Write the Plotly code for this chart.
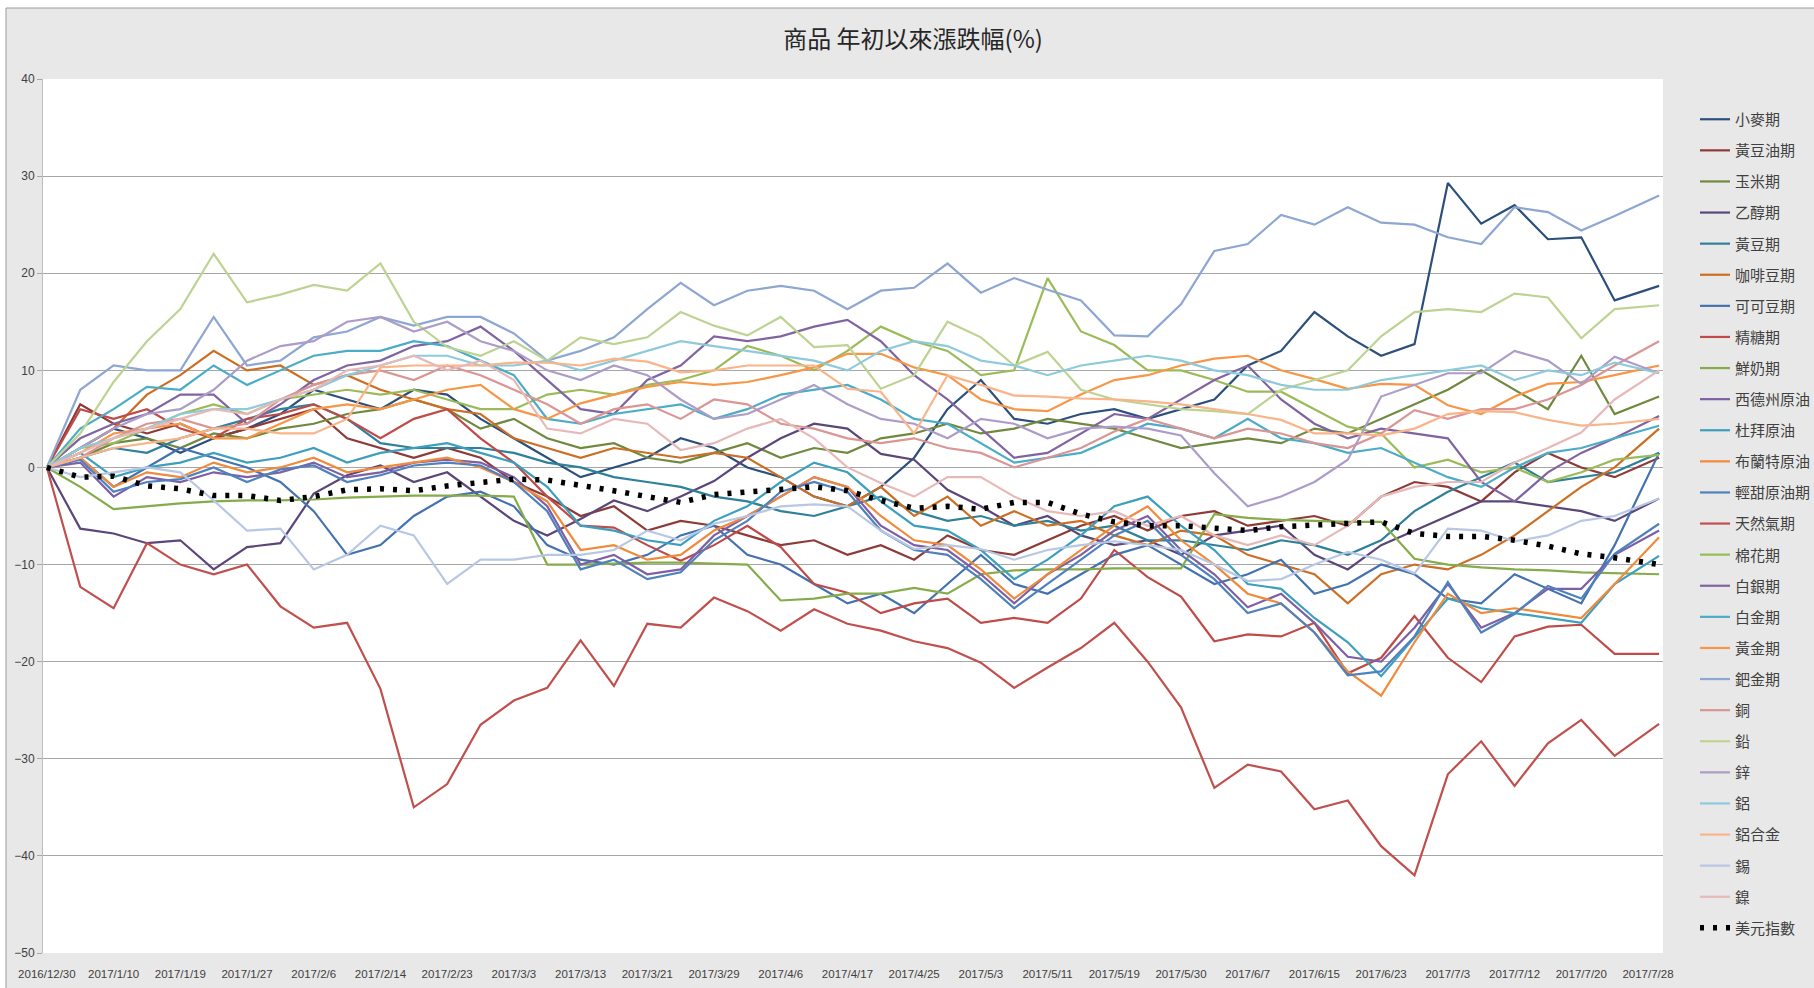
import plotly.graph_objects as go

# ---- category axis (trading days) ----
tick_labels = ["2016/12/30", "2017/1/10", "2017/1/19", "2017/1/27", "2017/2/6", "2017/2/14",
               "2017/2/23", "2017/3/3", "2017/3/13", "2017/3/21", "2017/3/29", "2017/4/6",
               "2017/4/17", "2017/4/25", "2017/5/3", "2017/5/11", "2017/5/19", "2017/5/30",
               "2017/6/7", "2017/6/15", "2017/6/23", "2017/7/3", "2017/7/12", "2017/7/20",
               "2017/7/28"]
tick_days = list(range(0, 145, 6))
days = list(range(0, 142, 3)) + [145]   # trading-day index of each reading

# ---- series (% change since start of year) ----
wheat = [0, 2, 4, 3, 1.5, 3, 4, 5.5, 8, 7, 6, 8, 7.5, 5, 3, 1, -1, 0, 1, 3, 2,
         0, -1, -3, -4, -2, 1, 6, 9, 5, 4.5, 5.5, 6, 5, 6, 7, 10.5, 12, 16, 13.5, 11.5, 12.7,
         29.3, 25.1, 27, 23.5, 23.7, 17.2, 18.7]
soyoil = [0, 6.5, 4.5, 3.5, 4.5, 3, 4, 5, 6, 3, 2, 1, 2, 1, -1.5, -3, -5, -4, -6.5, -5.5, -6,
          -7, -8, -7.5, -9, -8, -9.5, -7, -8.5, -9, -7.5, -6, -5, -6.5, -5, -4.5, -6, -5.5, -5, -6, -3, -1.5,
          -2, -3.5, -0.5, 1.5, 0, -1, 1]
corn = [0, 1, 2.5, 3, 2, 3.5, 3, 4, 4.5, 5.5, 6, 7, 6, 4, 5, 3, 2, 2.5, 1, 0.5, 1.5,
        2.5, 1, 2, 1.5, 3, 3.5, 4.5, 3.5, 4, 5, 4.5, 4, 3, 2, 2.5, 3, 2.5, 4, 3.5, 5, 6.5,
        8, 10, 8, 6, 11.5, 5.5, 7.3]
ethanol = [0, -6.3, -6.8, -7.8, -7.5, -10.5, -8.2, -7.8, -2.7, -0.8, 0.2, -1.5, -0.5, -3,
           -5.5, -7, -5.3, -3.4, -4.5, -3, -1.4, 1, 3, 4.5, 4, 1.4, 0.8, -2.3, -4, -6, -5, -7, -8, -7.5, -9,
           -7, -6.5, -6, -9, -10.5, -8, -6.5, -5, -3.5, -3.5, -4, -4.5, -5.5, -3.2]
soybean = [0, 1, 2, 1.5, 3, 4, 5, 6, 6.5, 5, 2.5, 2, 2, 2, 1.5, 0.5, 0, -1, -1.5, -2, -3,
           -3.5, -4.5, -5, -4, -3, -4.5, -5.5, -5, -6, -5.5, -6.5, -6, -7.5, -7.5, -8, -8.5, -7.5, -8, -9, -7.5, -4.5,
           -2.5, -1, 0.5, -1.5, -1, -0.5, 1.5]
coffee = [0, 2, 4, 7.5, 9.5, 12, 10, 10.5, 8.5, 9.5, 8, 7, 6, 5.5, 3, 2, 1, 2, 1.5, 1, 1.5,
          1, -1, -3, -4, -2, -5, -3, -6, -4.5, -6, -5.5, -7, -8, -6.5, -7, -9, -10, -11, -14, -11, -10,
          -10.5, -9, -7, -4.5, -2, 0, 4]
cocoa = [0, 1, -2, 0, 2, 1, 0, -1.5, -4.5, -9, -8, -5, -3, -2.5, -4, -8, -9.5, -10, -9, -7, -6,
         -9, -10, -12, -14, -13, -15, -12, -9, -12, -13, -11, -9, -8, -10, -12, -11, -9.5, -13, -12, -10, -11,
         -13.5, -14, -11, -12.5, -14, -8, 1.5]
sugar = [0, 6, 5, 6, 4, 3, 5, 5.5, 6.5, 5, 3, 5, 6, 3, 0.5, -3, -6, -6.2, -8, -9.6, -8,
         -6, -8.2, -12, -12.9, -15, -14, -13.5, -16, -15.5, -16, -13.5, -8.5, -11.3, -13.3, -17.9, -17.2, -17.4, -16, -21.2, -19.6, -15.3,
         -19.6, -22.1, -17.4, -16.4, -16.2, -19.2, -19.2]
milk = [0, -2, -4.3, -4, -3.7, -3.5, -3.4, -3.4, -3.3, -3.1, -3, -2.9, -2.9, -2.9, -3, -10, -10, -9.9, -9.8, -9.8, -9.9,
        -10, -13.7, -13.5, -13, -13, -12.4, -13, -11, -10.6, -10.5, -10.5, -10.4, -10.4, -10.4, -4.8, -5.2, -5.4, -5.5, -5.6, -5.6, -9.4,
        -10, -10.3, -10.5, -10.6, -10.8, -10.9, -11]
wti = [0, 0.5, -3, -1, -1.5, -0.5, -1, -0.5, 0.5, -1, -0.5, 0.5, 0.8, 0.5, -1, -4, -10, -9, -11, -10.5, -7,
       -5, -3, -1, -2, -6, -8, -8.5, -11, -14, -11, -9, -6.5, -5, -8.5, -11, -14.4, -13, -16, -19.5, -20, -16.5,
       -12, -16.5, -15, -12.5, -12.5, -9, -6.5]
dubai = [0, 1.5, -1, 0, 0.5, 1.5, 0.5, 1, 2, 0.5, 1.5, 2, 2.5, 1.5, 0.5, -2, -6, -6.5, -7.5, -8, -5.5,
         -4, -1.5, 0.5, -0.5, -3.5, -6, -6.5, -8.5, -11.5, -9.5, -7, -4, -3, -6, -8.5, -12, -12.5, -15.5, -18, -21.5, -17.5,
         -13.5, -14.5, -15, -15.5, -16, -12, -9.1]
brent = [0, 1, -2, -0.5, -1, 0.5, -0.5, 0, 1, -0.5, 0, 0.5, 1, 0, -1.5, -3.5, -8.5, -8, -9.5, -9, -6.5,
         -5, -3, -1, -2, -5, -7.5, -8, -10.5, -13.5, -11, -8.5, -6, -4, -7.5, -10, -13, -14, -17, -21, -23.5, -18,
         -13, -15, -14.5, -15, -15.5, -12, -7.2]
light_sweet = [0, 0.8, -2.5, -1.5, -1.2, 0, -1.5, -0.2, 0.2, -1.5, -0.8, 0.2, 0.5, 0.2, -1.5, -4.5, -10.5, -9.5, -11.5, -10.8, -7.5,
               -5.5, -2.5, -1.5, -2.5, -6.5, -8.5, -9, -11.5, -14.5, -12, -9.5, -7, -5.5, -9, -11.5, -15, -14, -17, -21.4, -21, -17.4,
               -11.8, -17, -15.1, -12.2, -13.5, -8.9, -5.8]
natgas = [0, -12.3, -14.5, -7.8, -10, -11, -10, -14.3, -16.5, -16, -22.8, -35, -32.6, -26.5, -24, -22.7, -17.8, -22.5, -16.1, -16.5, -13.4,
          -14.8, -16.8, -14.6, -16.1, -16.8, -17.9, -18.6, -20.1, -22.7, -20.6, -18.6, -16, -20, -24.7, -33, -30.6, -31.3, -35.2, -34.3, -39, -42,
          -31.6, -28.2, -32.8, -28.4, -26, -29.7, -26.4]
cotton = [0, 2, 2.5, 4, 5.5, 6.5, 5.5, 7, 7.5, 8, 7.5, 8, 7, 6, 6, 7.5, 8, 7.5, 8.5, 9, 10,
          12.5, 11.5, 10, 12, 14.5, 13, 12, 9.5, 10, 19.5, 14, 12.6, 10, 10, 9, 7.8, 7.8, 6, 4.2, 3.5, 0,
          0.8, -0.5, 0, -1.5, -0.5, 0.8, 1.3]
silver = [0, 3, 4.5, 5.5, 7.5, 7.5, 4.5, 6.5, 9, 10.5, 11, 12.5, 13, 14.5, 12, 9, 6, 5.5, 9, 10.5, 13.5,
          13, 13.5, 14.5, 15.2, 13, 9.5, 7, 4, 1, 1.5, 3.5, 5.5, 5, 7, 9, 10.5, 7, 4.5, 3, 4, 3.5,
          3, -1.5, -3.5, -0.5, 1.5, 3, 5.3]
platinum = [0, 4, 6, 8.3, 8, 10.5, 8.5, 10, 11.5, 12, 12, 13, 12.5, 11, 9.5, 5, 4.5, 5.5, 6, 6.5, 5,
            6, 7.5, 8, 8.5, 7, 5, 4.5, 2.5, 0.5, 1, 1.5, 3, 4.5, 4, 3, 5, 3, 2.5, 1.5, 2, 0.5,
            -1, -2, 0, 1.5, 2, 3, 4.3]
gold = [0, 1.5, 3.5, 4, 4.5, 3, 3, 4.5, 6, 6.5, 6, 7, 8, 8.5, 6, 5, 6.6, 7.5, 8.3, 8.8, 8.5,
        8.8, 9.5, 10.3, 11.7, 11.7, 10.3, 9.5, 7, 6, 5.8, 7.5, 9, 9.5, 10.5, 11.2, 11.5, 10, 9.1, 8.1, 8.6, 8.5,
        6.4, 5.5, 7.3, 8.6, 8.8, 9.5, 10.5]
palladium = [0, 8, 10.5, 10, 10, 15.5, 10.5, 11, 13.4, 14, 15.5, 14.6, 15.5, 15.5, 13.8, 11, 12, 13.4, 16.3, 19, 16.7,
             18.2, 18.7, 18.2, 16.3, 18.2, 18.5, 21, 18, 19.5, 18.3, 17.2, 13.6, 13.5, 16.8, 22.3, 23, 26, 25, 26.8, 25.2, 25,
             23.7, 23, 26.8, 26.3, 24.4, 25.9, 28]
copper = [0, 1, 3, 4.5, 5, 4, 4.5, 7, 8.5, 9.5, 10, 9, 10.5, 9.5, 8, 6.5, 4.5, 6, 6.5, 5, 7,
          6.5, 4.5, 4, 3, 2.5, 3, 2, 1.5, 0, 1, 2, 3.7, 5, 4, 3, 4, 3.5, 2.5, 2, 3.5, 5.9,
          5, 6, 6, 7, 8.5, 10.5, 13]
lead = [0, 3.5, 8.8, 13, 16.3, 22, 17, 17.8, 18.8, 18.2, 21, 15, 12.4, 11.5, 13, 11, 13.4, 12.7, 13.4, 16, 14.6,
        13.6, 15.5, 12.4, 12.6, 8.1, 9.5, 15, 13.4, 10.5, 11.9, 8, 7, 6.5, 6, 5.8, 5.5, 8, 9, 10, 13.5, 16,
        16.3, 16, 17.9, 17.5, 13.3, 16.3, 16.7]
zinc = [0, 2, 4, 5.5, 6, 8, 11, 12.5, 13, 15, 15.5, 14, 15, 13, 12, 10, 9, 10.5, 9.5, 7, 5,
        5.5, 7, 8.5, 6.5, 5, 4.5, 3, 5, 4.5, 3, 4, 4.2, 4, 3.3, -0.6, -4, -3, -1.5, 0.8, 7.3, 8.5,
        9.7, 9.7, 12, 11, 8.6, 11.4, 9.7]
aluminium = [0, 2, 3, 4, 5.5, 6, 6, 7, 8, 9.5, 10.5, 11.5, 11.5, 10.5, 10.5, 11, 10, 11, 12, 13, 12.5,
             12, 11.5, 11, 10, 12, 13, 12.5, 11, 10.5, 9.5, 10.5, 11, 11.5, 11, 10, 9.5, 8.5, 8, 8, 9, 9.5,
             10, 10.5, 9, 10, 9.5, 10.8, 9.7]
alu_alloy = [0, 1, 2, 2.5, 3, 4, 4, 3.5, 3.5, 5, 10.3, 10.5, 10.5, 10.5, 10.8, 10.8, 10.5, 11.2, 10.9, 9.8, 10,
             10.5, 10.5, 10.5, 8.1, 7.8, 3.5, 9.5, 8.5, 7.4, 7.3, 7.1, 7, 6.8, 6.5, 6, 5.5, 4.9, 3.5, 3.5, 3.3, 4,
             5.5, 5.8, 5.7, 4.9, 4.3, 4.5, 5]
tin = [0, -1, -0.5, 0, -0.5, -3.4, -6.5, -6.3, -10.5, -9, -6, -7, -12, -9.5, -9.5, -9, -9, -8.5, -6.5, -7.5, -5.8,
       -5, -4, -3.8, -4, -6.5, -8.4, -8, -8.4, -9.5, -8.5, -8, -7.6, -8, -8.5, -10, -11.7, -11.5, -10, -8.7, -9.5, -10.9,
       -6.3, -6.5, -7.6, -7, -5.5, -5, -3.2]
nickel = [0, 1.5, 3, 4, 5, 6, 5.5, 7, 8, 10, 10.5, 11.5, 10, 11, 9, 4, 3.5, 5, 4.5, 1.8, 2.5,
          4, 5, 3, 0, -1.6, -3, -1, -1, -3, -4.5, -5, -4.5, -6, -5, -7, -8, -7, -8, -6, -3, -2,
          -1.5, -1.5, 0.5, 2, 3.6, 7, 10]
usd = [0, -1.0, -0.9, -1.9, -2.2, -2.9, -2.9, -3.4, -3.0, -2.3, -2.2, -2.4, -1.9, -1.5, -1.2, -1.3, -1.8, -2.4, -3.0, -3.6, -2.8,
       -2.5, -2.3, -2.0, -2.4, -3.4, -4.2, -4.0, -4.3, -3.6, -3.6, -4.8, -5.6, -6.0, -6.0, -6.2, -6.5, -6.1, -5.9, -5.8, -5.6, -6.8,
       -7.1, -7.1, -7.5, -8.1, -8.9, -9.3, -10.0]

names = ["小麥期", "黃豆油期", "玉米期", "乙醇期", "黃豆期", "咖啡豆期", "可可豆期", "精糖期", "鮮奶期",
         "西德州原油", "杜拜原油", "布蘭特原油", "輕甜原油期", "天然氣期", "棉花期", "白銀期", "白金期",
         "黃金期", "鈀金期", "銅", "鉛", "鋅", "鋁", "鋁合金", "錫", "鎳"]
values = [wheat, soyoil, corn, ethanol, soybean, coffee, cocoa, sugar, milk,
          wti, dubai, brent, light_sweet, natgas, cotton, silver, platinum,
          gold, palladium, copper, lead, zinc, aluminium, alu_alloy, tin, nickel]
colors = ["#2C4F7C", "#8E3A37", "#71893F", "#5B4679", "#2F8199", "#CC6E23", "#4472B0", "#BE4B48", "#86AC4A",
          "#7D5FA5", "#3E9FBD", "#F08A3C", "#4F81BD", "#C0504D", "#9BBB59", "#8064A2", "#4BACC6",
          "#F79646", "#8DA6D2", "#D99694", "#BCD392", "#AC9CC8", "#8DCADB", "#F9B48A", "#B8C7E3", "#E6B9B8"]

fig = go.Figure()
for i, (n, v, c) in enumerate(zip(names, values, colors)):
    fig.add_trace(go.Scatter(x=days, y=v, name=n, mode="lines",
                             line=dict(color=c, width=2.2), legendgroup="g%d" % i))
fig.add_trace(go.Scatter(x=days, y=usd, name="美元指數", mode="lines",
                         line=dict(color="#000000", width=5.5, dash="4px,9px"), legendgroup="usd"))

# geometry (pixels)
W, H = 1814, 988
L, R, T, B = 43, 151, 79, 35
pw, ph = W - L - R, H - T - B

def px(xp):
    return (xp - L) / pw

def py(yp):
    return (H - B - yp) / ph

shapes = [
    dict(type="rect", xref="paper", yref="paper", x0=px(-5), x1=px(W + 5), y0=py(8), y1=py(-5),
         fillcolor="white", line=dict(width=0), layer="below"),
    dict(type="rect", xref="paper", yref="paper", x0=px(-5), x1=px(6), y0=py(H + 5), y1=py(-5),
         fillcolor="white", line=dict(width=0), layer="below"),
    dict(type="line", xref="paper", yref="paper", x0=px(6), x1=px(W + 5), y0=py(8), y1=py(8),
         line=dict(color="#9a9a9a", width=1)),
    dict(type="line", xref="paper", yref="paper", x0=px(6), x1=px(6), y0=py(8), y1=py(H + 5),
         line=dict(color="#9a9a9a", width=1)),
]

fig.update_layout(
    width=W, height=H,
    margin=dict(l=L, r=R, t=T, b=B, pad=0, autoexpand=False),
    paper_bgcolor="#e8e8e8",
    plot_bgcolor="#ffffff",
    font=dict(family="Noto Sans CJK TC, Liberation Sans, sans-serif", color="#404040"),
    title=dict(text="商品 年初以來漲跌幅(%)", x=913 / W, xref="container", xanchor="center",
               y=1 - 40 / H, yref="container", yanchor="middle",
               font=dict(size=24, color="#262626", family="Noto Sans CJK TC, sans-serif")),
    showlegend=True,
    legend=dict(x=px(1695), y=py(103), xanchor="left", yanchor="top",
                font=dict(size=15, color="#404040", family="Noto Sans CJK TC, sans-serif"),
                tracegroupgap=8.6, bgcolor="rgba(0,0,0,0)", borderwidth=0,
                itemwidth=30, traceorder="grouped"),
    xaxis=dict(range=[-0.35, 145.35], tickmode="array", tickvals=tick_days, ticktext=tick_labels,
               tickangle=0, showgrid=False, zeroline=False, showline=False,
               ticks="outside", ticklen=10, tickcolor="rgba(0,0,0,0)",
               tickfont=dict(size=11.5, family="Liberation Sans, sans-serif", color="#404040")),
    yaxis=dict(range=[-50, 40], dtick=10, tick0=0, showgrid=True, gridcolor="#a6a6a6", gridwidth=1,
               zeroline=True, zerolinecolor="#a6a6a6", zerolinewidth=1,
               showline=True, linecolor="#bdbdbd", linewidth=1,
               ticks="outside", ticklen=5, tickcolor="#a6a6a6",
               tickfont=dict(size=12, family="Liberation Sans, sans-serif", color="#404040")),
    shapes=shapes,
)

fig.write_html("out.html", config={"displayModeBar": False},
               post_script="document.body.style.margin='0';document.body.style.overflow='hidden';")
